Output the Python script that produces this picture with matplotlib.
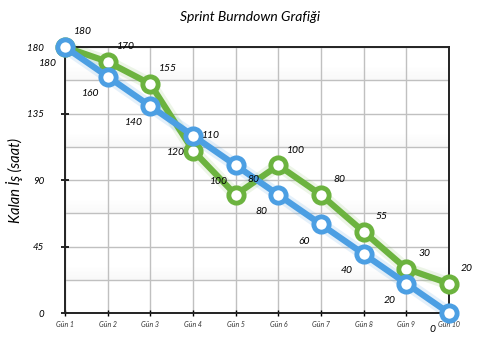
import matplotlib
matplotlib.use('Agg')
import matplotlib.pyplot as plt
import numpy as np

days = ['Gün 1', 'Gün 2', 'Gün 3', 'Gün 4', 'Gün 5',
        'Gün 6', 'Gün 7', 'Gün 8', 'Gün 9', 'Gün 10']
ideal = [180, 160, 140, 120, 100, 80, 60, 40, 20, 0]
actual = [180, 170, 155, 110, 80, 100, 80, 55, 30, 20]
y_ticks = [0, 45, 90, 135, 180]

blue = '#4c9fe3'
green = '#6cb33f'

plt.rcParams['font.family'] = ['Lato', 'DejaVu Sans']

fig = plt.figure(figsize=(5, 3.51), dpi=100)
ax = fig.add_axes([0.13, 0.108, 0.768, 0.758])

x = np.arange(len(days))
ax.set_xlim(0, len(days) - 1)
ax.set_ylim(0, 180)

# soft shadow bands above alternate grid lines
for base in [22.5, 67.5, 112.5, 157.5]:
    for k in range(10):
        ax.axhspan(base + k * 0.9, base + (k + 1) * 0.9,
                   color='#b0b0b0', alpha=0.08 * (1 - k / 10), lw=0, zorder=0)

ax.set_xticks(x)
ax.set_xticklabels(days, fontsize=5, style='italic', color='#333333')
ax.set_yticks(y_ticks)
ax.set_yticklabels([str(v) for v in y_ticks], fontsize=7, style='italic')
ax.set_yticks(np.arange(0, 181, 22.5), minor=True)
ax.tick_params(axis='y', which='major', direction='inout', length=6, width=1.2, pad=12)
ax.tick_params(axis='y', which='minor', length=0)
ax.tick_params(axis='x', direction='inout', length=4, width=1, pad=4)
ax.grid(True, which='both', color='#c0c0c0', lw=1, zorder=1)
for s in ax.spines.values():
    s.set_linewidth(1.4)
    s.set_color('#222222')

# glow under the lines
ax.plot(x, actual, color=green, lw=9, alpha=0.12, zorder=2, clip_on=False)
ax.plot(x, ideal, color=blue, lw=9, alpha=0.15, zorder=2, clip_on=False)

ax.plot(x, actual, color=green, lw=4.5, marker='o', ms=11, mfc='white',
        mec=green, mew=3.5, zorder=3, clip_on=False)
ax.plot(x, ideal, color=blue, lw=4.5, marker='o', ms=11, mfc='white',
        mec=blue, mew=3.5, zorder=4, clip_on=False)

for xi, v in zip(x, ideal):
    ax.annotate(str(v), (xi, v), xytext=(-12, -12), textcoords='offset points',
                ha='center', va='center', fontsize=7.5, style='italic', zorder=5)
for xi, v in zip(x, actual):
    ax.annotate(str(v), (xi, v), xytext=(13, 11), textcoords='offset points',
                ha='center', va='center', fontsize=7.5, style='italic', zorder=5)

ax.set_ylabel('Kalan İş (saat)', fontsize=10.5, style='italic')
ax.yaxis.set_label_coords(-0.11, 0.5)
fig.text(0.5, 0.952, 'Sprint Burndown Grafiği', ha='center', va='center',
         fontsize=10, style='italic')

fig.savefig('out.png', dpi=100)
